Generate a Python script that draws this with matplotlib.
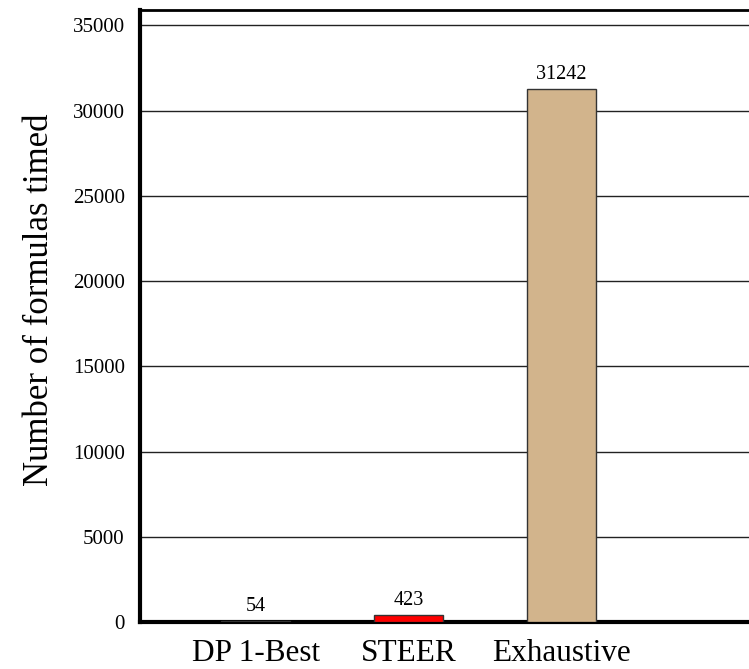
import numpy as np
import matplotlib.pyplot as plt

categories = ["DP 1-Best", "STEER", "Exhaustive"]
counts = [54, 423, 31242]
colors = ["#3050c0", "#ff0000", "#d2b48c"]
yticks = [0, 5000, 10000, 15000, 20000, 25000, 30000, 35000]

plt.rcParams["font.family"] = ["Liberation Serif", "DejaVu Serif"]

fig = plt.figure(figsize=(7.49, 6.69), dpi=100)
ax = fig.add_axes([140 / 749, 1 - 622 / 669, 620 / 749, 612 / 669])

x = np.arange(len(categories))
bars = ax.bar(x, counts, width=0.45, color=colors, edgecolor="#333333", linewidth=1, zorder=3)

for xi, v in zip(x, counts):
    ax.text(xi, v + 300, str(v), ha="center", va="bottom", fontsize=14.5, zorder=4)

ax.set_xlim(-0.757, 3.3)
ax.set_ylim(0, 35900)
ax.set_yticks(yticks)
ax.set_yticklabels([str(t) for t in yticks], fontsize=15)
ax.set_xticks(x)
ax.set_xticklabels(categories, fontsize=22.5)
ax.tick_params(axis="both", length=0)
ax.tick_params(axis="y", pad=11)
ax.tick_params(axis="x", pad=12)

ax.yaxis.grid(True, color="#222222", linewidth=1)
ax.set_axisbelow(True)

ax.spines["left"].set_linewidth(3)
ax.spines["bottom"].set_linewidth(3)
ax.spines["top"].set_linewidth(2)
ax.spines["right"].set_visible(False)

ax.set_ylabel("Number of formulas timed", fontsize=25)
ax.yaxis.set_label_coords(-84 / 620, (622 - 300) / 612)

fig.savefig("out.png", dpi=100)
